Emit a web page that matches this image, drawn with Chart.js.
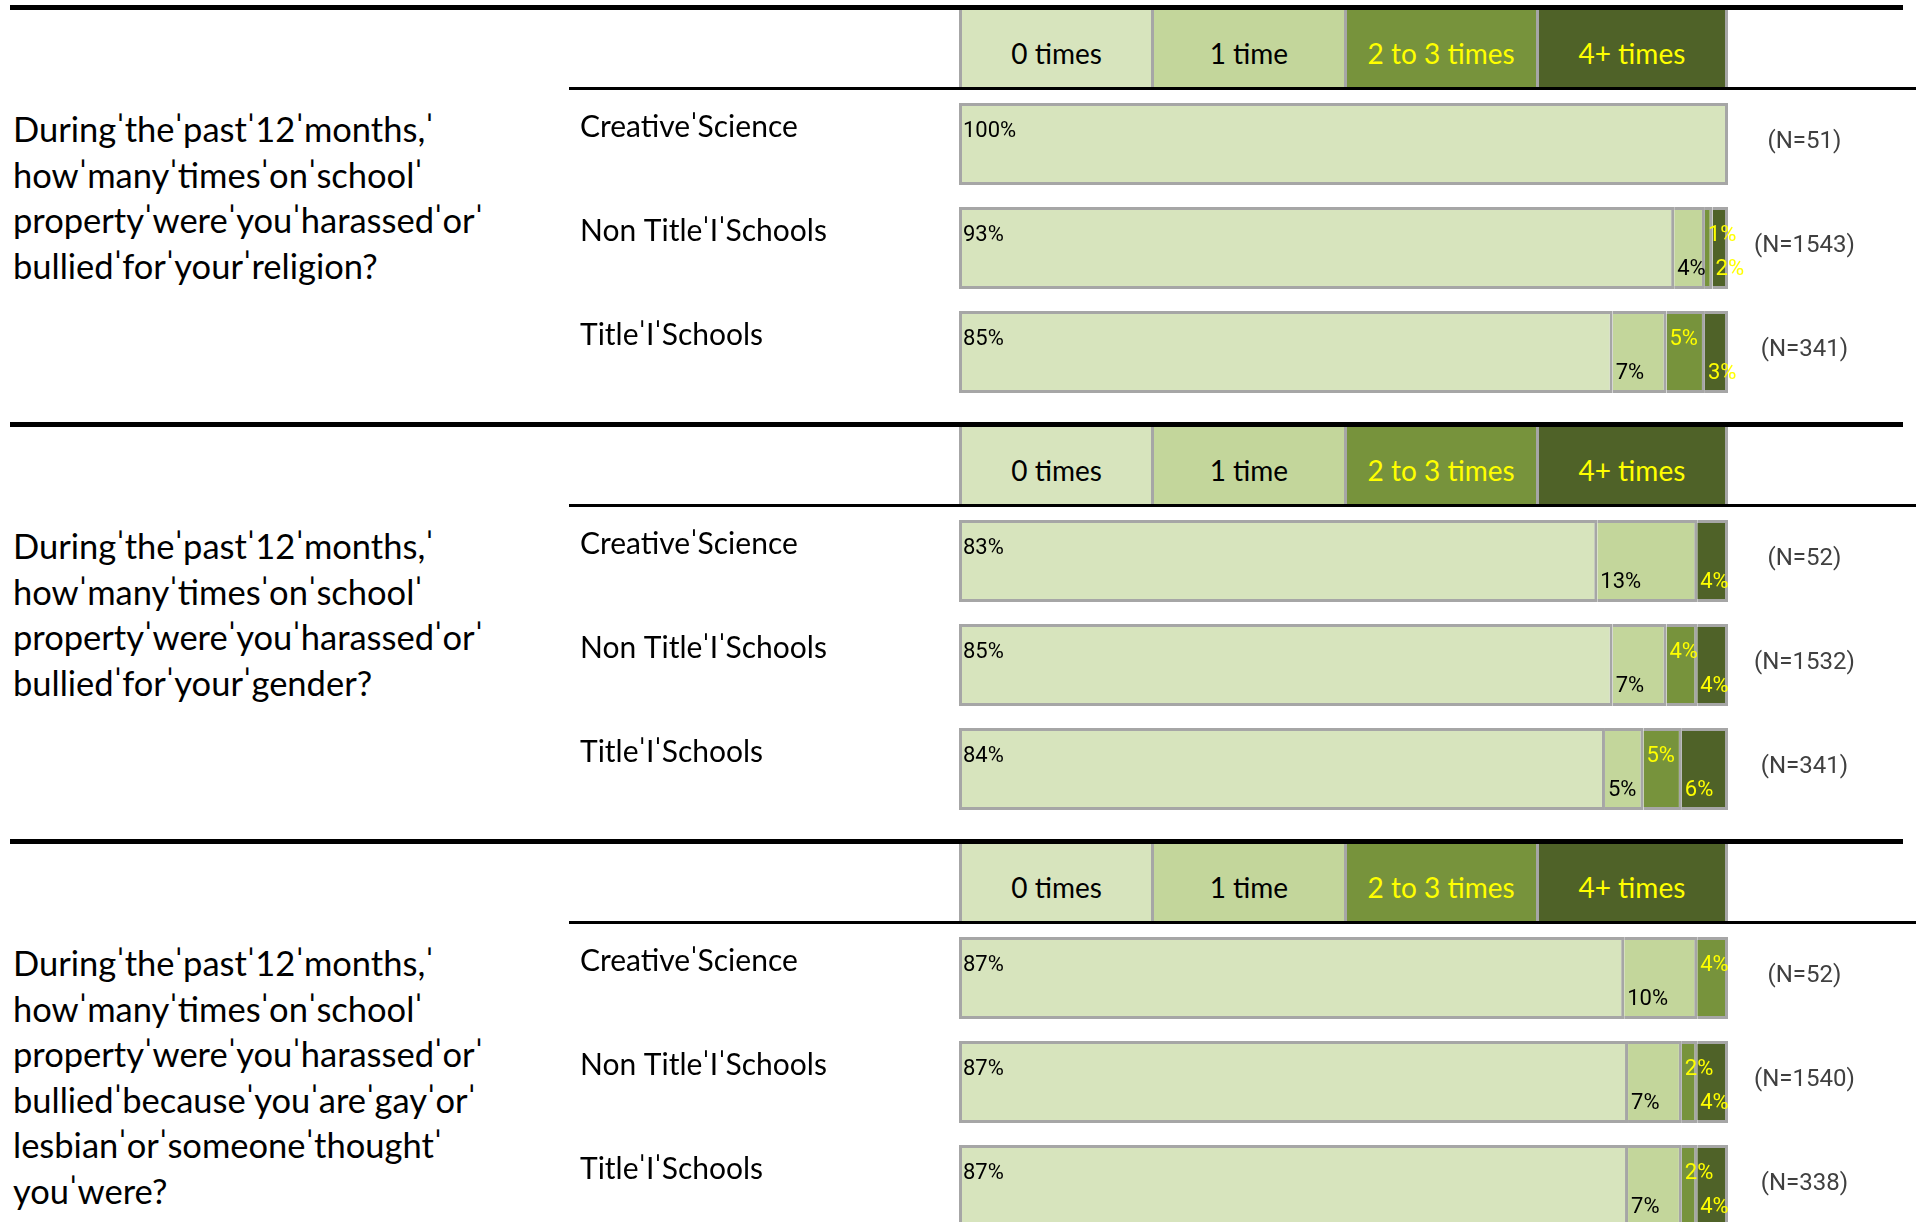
<!DOCTYPE html>
<html>
<head>
<meta charset="utf-8">
<script src="https://cdn.jsdelivr.net/npm/chart.js@4.4.1/dist/chart.umd.min.js"></script>
<style>
    body { margin: 0; background: #fff; }
    #page { position: relative; width: 1916px; height: 1222px; overflow: hidden; }
    .topline { position: absolute; left: 10px; width: 1893px; height: 5px; background: #000; }
    .headline { position: absolute; left: 569px; width: 1347px; height: 3px; background: #000; }
    .hbox { position: absolute; height: 77px; box-sizing: border-box; border-left: 3px solid #a6a6a6; font: 28px Lato, sans-serif; text-align: center; line-height: 86px; white-space: nowrap; }
    .question { position: absolute; left: 13px; font: 34.5px Lato, sans-serif; line-height: 45.6px; white-space: pre; color: #000; }
    canvas { position: absolute; left: 580px; }
</style>
</head>
<body>
<div id="page"></div>
<script>
    var timeLabels = ['0 times', '1 time', '2 to 3 times', '4+ times'];
    var timeColors = ['#d7e4bd', '#c3d69b', '#77933c', '#4f6228'];
    var textColors = ['#000000', '#000000', '#ffff00', '#ffff00'];
    var schoolLabels = ['CreativeˈScience', 'Non TitleˈIˈSchools', 'TitleˈIˈSchools'];

    // religion
    var religionCreative = [100, 0, 0, 0];
    var religionNonTitle = [93, 4, 1, 2];
    var religionTitle = [85, 7, 5, 3];
    var religionN = ['(N=51)', '(N=1543)', '(N=341)'];
    var religionQuestion = ['Duringˈtheˈpastˈ12ˈmonths,ˈ', 'howˈmanyˈtimesˈonˈschoolˈ', 'propertyˈwereˈyouˈharassedˈorˈ', 'bulliedˈforˈyourˈreligion?'];

    // gender
    var genderCreative = [83, 13, 0, 4];
    var genderNonTitle = [85, 7, 4, 4];
    var genderTitle = [84, 5, 5, 6];
    var genderN = ['(N=52)', '(N=1532)', '(N=341)'];
    var genderQuestion = ['Duringˈtheˈpastˈ12ˈmonths,ˈ', 'howˈmanyˈtimesˈonˈschoolˈ', 'propertyˈwereˈyouˈharassedˈorˈ', 'bulliedˈforˈyourˈgender?'];

    // gay or lesbian
    var gayCreative = [86.5, 9.5, 4, 0];
    var gayNonTitle = [87, 7, 2, 4];
    var gayTitle = [87, 7, 2, 4];
    var gayN = ['(N=52)', '(N=1540)', '(N=338)'];
    var gayQuestion = ['Duringˈtheˈpastˈ12ˈmonths,ˈ', 'howˈmanyˈtimesˈonˈschoolˈ', 'propertyˈwereˈyouˈharassedˈorˈ', 'bulliedˈbecauseˈyouˈareˈgayˈorˈ', 'lesbianˈorˈsomeoneˈthoughtˈ', 'youˈwere?'];

    var sections = [
        { question: religionQuestion, rows: [religionCreative, religionNonTitle, religionTitle], n: religionN },
        { question: genderQuestion, rows: [genderCreative, genderNonTitle, genderTitle], n: genderN },
        { question: gayQuestion, rows: [gayCreative, gayNonTitle, gayTitle], n: gayN }
    ];

    const pctLabels = {
        id: 'pctLabels',
        afterDatasetsDraw: function (chart) {
            const ctx = chart.ctx;
            ctx.save();
            ctx.font = '22px Roboto';
            ctx.textAlign = 'left';
            ctx.textBaseline = 'alphabetic';
            chart.data.datasets.forEach((dataset, i) => {
                chart.getDatasetMeta(i).data.forEach((bar, j) => {
                    let v = dataset.data[j];
                    if (!v) return;
                    let left = Math.min(bar.x, bar.base);
                    let top = bar.y - bar.height / 2;
                    let bottom = bar.y + bar.height / 2;
                    ctx.fillStyle = textColors[i];
                    // 0 times / 2-3 times at the top, the others at the bottom
                    ctx.fillText(Math.round(v) + '%', left + (i == 0 ? 4 : 3), i % 2 == 0 ? top + 34 : bottom - 14);
                });
            });
            ctx.restore();
        }
    };

    var page = document.getElementById('page');
    var sectionHeight = 417;
    var barLeft = 959, barRight = 1728;

    function noPadding(scale) {
        scale.paddingTop = 0;
        scale.paddingBottom = 0;
    }

    function addDiv(cls, style) {
        var d = document.createElement('div');
        d.className = cls;
        Object.assign(d.style, style);
        page.appendChild(d);
        return d;
    }

    sections.forEach(function (sec, s) {
        var base = s * sectionHeight;

        addDiv('topline', { top: (base + 5) + 'px' });
        addDiv('headline', { top: (base + 87) + 'px' });

        // header boxes
        var boxW = (barRight - barLeft) / timeLabels.length;
        timeLabels.forEach(function (t, k) {
            var b = addDiv('hbox', {
                top: (base + 10) + 'px',
                left: (barLeft + k * boxW) + 'px',
                width: boxW + 'px',
                background: timeColors[k],
                color: textColors[k]
            });
            if (k == timeLabels.length - 1) b.style.borderRight = '3px solid #a6a6a6';
            b.textContent = t;
        });

        var q = addDiv('question', { top: (base + 106) + 'px' });
        q.textContent = sec.question.join('\n');

        var cv = document.createElement('canvas');
        cv.width = 1336;
        cv.height = 312;
        cv.style.top = (base + 92) + 'px';
        page.appendChild(cv);

        let datasets = timeLabels.map(function (t, k) {
            return {
                label: t,
                data: sec.rows.map(r => r[k]),
                backgroundColor: timeColors[k],
                borderColor: '#a6a6a6',
                borderWidth: { top: 3, bottom: 3, right: 3, left: k == 0 ? 3 : 0 },
                borderSkipped: false,
                inflateAmount: 0,
                barThickness: 82
            };
        });

        new Chart(cv.getContext('2d'), {
            type: 'bar',
            data: {
                labels: schoolLabels,
                datasets: datasets
            },
            plugins: [pctLabels],
            options: {
                indexAxis: 'y',
                responsive: false,
                animation: false,
                events: [],
                layout: { padding: 0 },
                plugins: {
                    legend: { display: false },
                    tooltip: { enabled: false }
                },
                scales: {
                    x: { stacked: true, min: 0, max: 100, display: false },
                    y: {
                        stacked: true,
                        position: 'left',
                        grid: { display: false, drawTicks: false },
                        border: { display: false },
                        ticks: { crossAlign: 'far', labelOffset: -17, padding: 0, color: '#000', font: { family: 'Lato', size: 30 } },
                        afterFit: function (scale) { scale.width = barLeft - 580; noPadding(scale); }
                    },
                    n: {
                        type: 'category',
                        labels: sec.n,
                        offset: true,
                        position: 'right',
                        grid: { display: false, drawTicks: false },
                        border: { display: false },
                        ticks: { crossAlign: 'center', padding: 26, labelOffset: -2, color: '#404040', font: { family: 'Roboto', size: 24 } },
                        afterFit: function (scale) { scale.width = 1916 - barRight; noPadding(scale); }
                    }
                }
            }
        });
    });
</script>
</body>
</html>
